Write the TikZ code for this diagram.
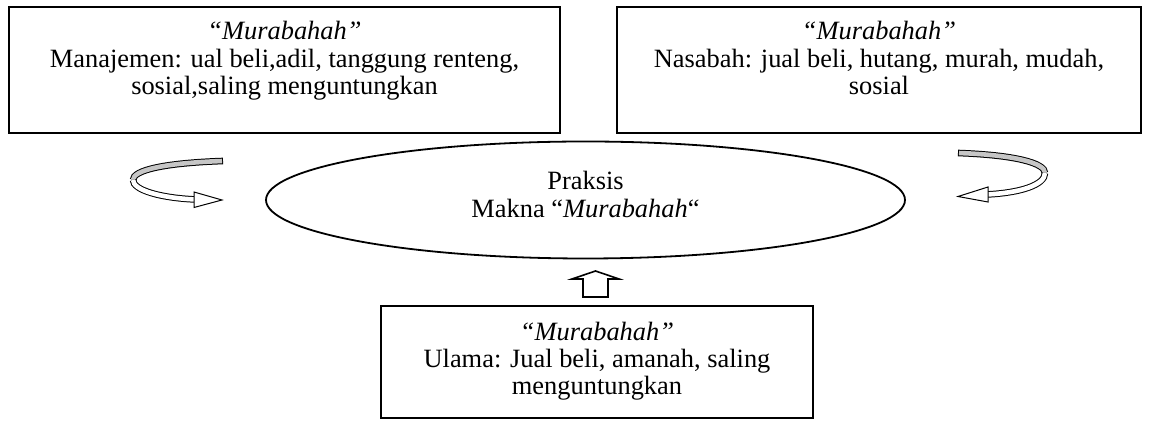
\documentclass[tikz,border=0pt]{standalone}
\usepackage{fontspec}
\setmainfont{Liberation Serif}
\usetikzlibrary{shapes.geometric}
\tikzset{
  box/.style={draw, line width=0.9pt, inner sep=0pt, rectangle},
  txt/.style={inner sep=0pt, anchor=base, font=\fontsize{13.2}{13.5}\selectfont},
  bandout/.style={line width=3.3pt, black},
  bandback/.style={line width=2.3pt, gray!45},
  bandfront/.style={line width=2.3pt, white},
  headshape/.style={draw, fill=white, line width=0.5pt, line join=miter},
  blockarrow/.style={draw, fill=white, line width=0.8pt, line join=miter}
}
\begin{document}
\begin{tikzpicture}[x=0.5pt,y=-0.5pt]
\useasboundingbox (0,0) rectangle (1152,421);

% boxes
\node[box, minimum width=275.5pt, minimum height=63pt] (lbox) at (284.5,70) {};
\node[box, minimum width=262pt, minimum height=63pt] (rbox) at (879,70) {};
\node[box, minimum width=216pt, minimum height=56pt] (bbox) at (597,362) {};
\node[draw, ellipse, line width=0.9pt, inner sep=0pt, minimum width=319.5pt, minimum height=58.5pt] (ell) at (585.5,200) {};

% texts
\node[txt] (l1) at (284.5,40) {\textit{“Murabahah”}};
\node[txt] (l2) at (284.5,68) {Manajemen: ual beli,adil, tanggung renteng,};
\node[txt] (l3) at (284.5,95) {sosial,saling menguntungkan};
\node[txt] (r1) at (879,40) {\textit{“Murabahah”}};
\node[txt] (r2) at (879,68) {Nasabah: jual beli, hutang, murah, mudah,};
\node[txt] (r3) at (879,95) {sosial};
\node[txt] (b1) at (597,341) {\textit{“Murabahah”}};
\node[txt] (b2) at (597,368) {Ulama: Jual beli, amanah, saling};
\node[txt] (b3) at (597,395) {menguntungkan};
\node[txt] (e1) at (585.5,190) {Praksis};
\node[txt] (e2) at (585.5,218) {Makna “\textit{Murabahah}“};

% left curved arrow
\draw[bandout] (223,161) .. controls (165,163) and (133,170) .. (133,180);
\draw[bandback, shorten <=0.5pt] (223,161) .. controls (165,163) and (133,170) .. (133,180);
\draw[bandout] (133,180) .. controls (133,190) and (160,198) .. (196,199.5);
\draw[bandfront] (133,180) .. controls (133,190) and (160,198) .. (196,199.5);
\filldraw[headshape] (194,192) -- (222,200) -- (194,207.5) -- cycle;

% right curved arrow
\draw[bandout] (958,153) .. controls (1015,155) and (1045,163) .. (1045,173);
\draw[bandback, shorten <=0.5pt] (958,153) .. controls (1015,155) and (1045,163) .. (1045,173);
\draw[bandout] (1045,173) .. controls (1045,185) and (1020,193) .. (986,194.5);
\draw[bandfront] (1045,173) .. controls (1045,185) and (1020,193) .. (986,194.5);
\filldraw[headshape] (988,187) -- (958,196.5) -- (988,202) -- cycle;

% up block arrow
\filldraw[blockarrow] (595.5,271) -- (619,279) -- (608,279) -- (608,297) -- (583,297) -- (583,279) -- (572,279) -- cycle;
\end{tikzpicture}
\end{document}
